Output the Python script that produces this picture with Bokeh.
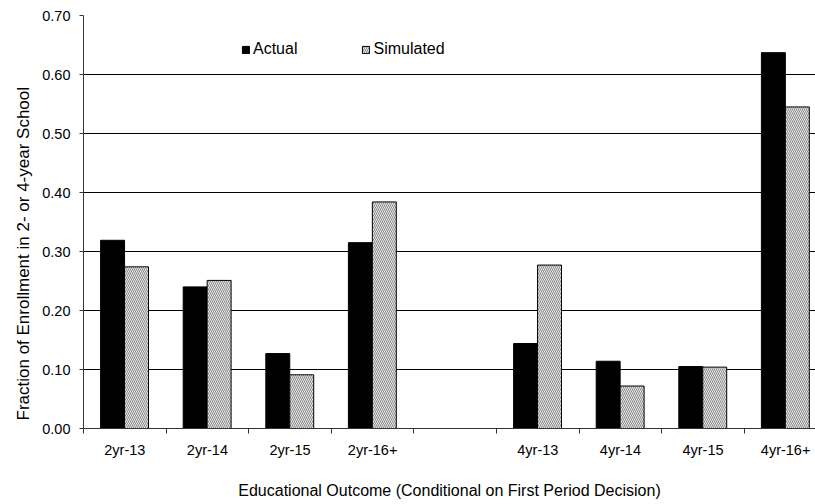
import numpy as np
from bokeh.plotting import figure
from bokeh.models import FixedTicker, Legend, LegendItem, Range1d, ColumnDataSource, Title
from bokeh.transform import dodge
from bokeh.embed import file_html
from bokeh.resources import INLINE

# ---- data ----
categories = ["2yr-13", "2yr-14", "2yr-15", "2yr-16+", "", "4yr-13", "4yr-14", "4yr-15", "4yr-16+"]
actual = [0.319, 0.240, 0.127, 0.315, np.nan, 0.144, 0.114, 0.105, 0.637]
simulated = [0.274, 0.251, 0.091, 0.384, np.nan, 0.277, 0.072, 0.104, 0.545]
y_ticks = [0.0, 0.1, 0.2, 0.3, 0.4, 0.5, 0.6, 0.7]
y_title = "Fraction of Enrollment in 2- or 4-year School"
x_title = "Educational Outcome (Conditional on First Period Decision)"

FONT = "Liberation Sans"

n = len(categories)
centers = [i + 0.5 for i in range(n)]
bounds = [float(i) for i in range(n + 1)]
keep = [i for i in range(n) if categories[i] != ""]
src = ColumnDataSource(dict(
    x=[centers[i] for i in keep],
    actual=[actual[i] for i in keep],
    simulated=[simulated[i] for i in keep],
))

p = figure(width=815, height=504, output_backend="svg", toolbar_location=None,
           x_range=Range1d(0, 8.862), y_range=Range1d(0, 0.70),
           min_border_left=83, min_border_right=0, min_border_top=15, min_border_bottom=76)
p.outline_line_color = None
p.background_fill_color = "white"
p.border_fill_color = "white"

r1 = p.vbar(x=dodge("x", -0.148, range=p.x_range), top="actual", width=0.29, source=src,
            fill_color="black", line_color="black", line_width=1)
r2 = p.vbar(x=dodge("x", 0.142, range=p.x_range), top="simulated", width=0.29, source=src,
            fill_color="white", line_color="black", line_width=1,
            hatch_pattern="\\", hatch_color="#8a8a8a", hatch_scale=4, hatch_weight=1.1)

# x axis
xa = p.xaxis[0]
xa.ticker = FixedTicker(ticks=centers, minor_ticks=bounds)
xa.major_label_overrides = {c: lab for c, lab in zip(centers, categories)}
xa.major_tick_line_color = None
xa.major_tick_out = 5
xa.minor_tick_out = 5
xa.minor_tick_in = 0
xa.minor_tick_line_color = "#333333"
xa.axis_line_color = "#333333"
xa.major_label_text_font = FONT
xa.major_label_text_font_size = "14.5px"
xa.major_label_text_color = "black"
xa.major_label_standoff = 8
xa.axis_label = x_title
xa.axis_label_text_font = FONT
xa.axis_label_text_font_size = "16px"
xa.axis_label_text_font_style = "normal"
xa.axis_label_text_color = "black"
xa.axis_label_standoff = 21

# y axis
ya = p.yaxis[0]
ya.ticker = FixedTicker(ticks=y_ticks)
ya.major_label_overrides = {t: f"{t:.2f}" for t in y_ticks}
ya.minor_tick_line_color = None
ya.major_tick_out = 4
ya.major_tick_in = 0
ya.major_tick_line_color = "#333333"
ya.axis_line_color = "#333333"
ya.major_label_text_font = FONT
ya.major_label_text_font_size = "14.5px"
ya.major_label_text_color = "black"
ya.major_label_standoff = 9

ytitle = Title(text=y_title, align="left", offset=8, standoff=14,
               text_font=FONT, text_font_size="17px", text_font_style="normal",
               text_color="black")
p.add_layout(ytitle, "left")

p.xgrid.grid_line_color = None
p.ygrid.ticker = FixedTicker(ticks=y_ticks)
p.ygrid.grid_line_color = "black"
p.ygrid.grid_line_width = 1

legend = Legend(items=[LegendItem(label="Actual", renderers=[r1]),
                       LegendItem(label="Simulated", renderers=[r2])],
                orientation="horizontal", location=(158, 370),
                glyph_width=9, glyph_height=9, label_standoff=3, spacing=64,
                padding=0, margin=0, border_line_color=None, background_fill_alpha=0,
                label_text_font=FONT, label_text_font_size="16px", label_text_color="black")
p.add_layout(legend)

open("out.html", "w").write(file_html(p, INLINE))
